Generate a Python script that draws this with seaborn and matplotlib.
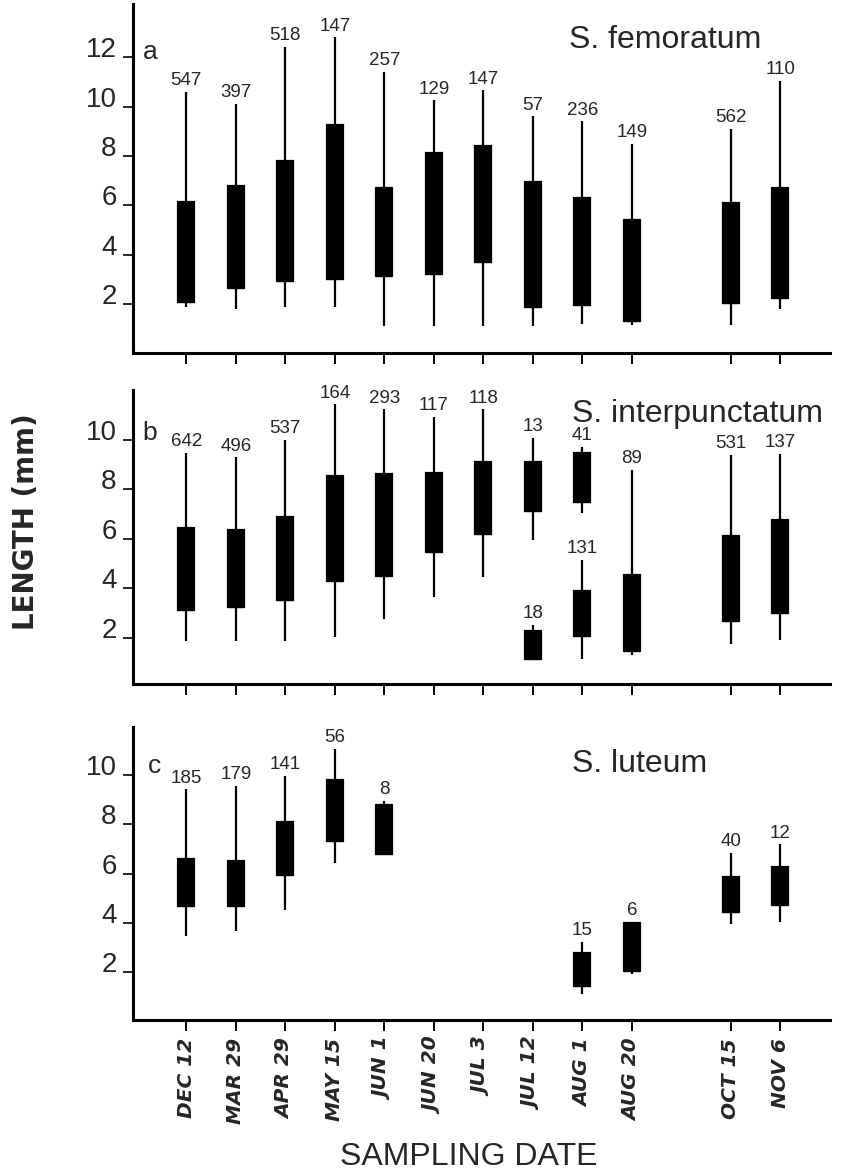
import numpy as np
import pandas as pd
import matplotlib
matplotlib.use("Agg")
import matplotlib.pyplot as plt
import seaborn as sns

# sampling dates (x axis)
dates = ["DEC 12", "MAR 29", "APR 29", "MAY 15", "JUN 1", "JUN 20",
         "JUL 3", "JUL 12", "AUG 1", "AUG 20", "OCT 15", "NOV 6"]

# a: S. femoratum  (whisker low, box low, box high, whisker high, n)
fem_dates = dates
fem_n = [547, 397, 518, 147, 257, 129, 147, 57, 236, 149, 562, 110]
fem_lo = [1.9, 1.8, 1.9, 1.9, 1.1, 1.1, 1.1, 1.1, 1.2, 1.15, 1.15, 1.8]
fem_q1 = [2.1, 2.65, 2.95, 3.0, 3.15, 3.2, 3.7, 1.9, 1.95, 1.3, 2.05, 2.25]
fem_q3 = [6.15, 6.8, 7.8, 9.25, 6.7, 8.1, 8.4, 6.95, 6.3, 5.4, 6.1, 6.7]
fem_hi = [10.6, 10.1, 12.4, 12.8, 11.4, 10.25, 10.65, 9.6, 9.4, 8.5, 9.1, 11.05]

# b: S. interpunctatum, main cohort
int_dates = dates
int_n = [642, 496, 537, 164, 293, 117, 118, 13, 41, 89, 531, 137]
int_lo = [1.87, 1.87, 1.87, 2.04, 2.78, 3.63, 4.46, 5.94, 7.05, 1.3, 1.77, 1.93]
int_q1 = [3.14, 3.25, 3.52, 4.3, 4.49, 5.47, 6.19, 7.13, 7.48, 1.48, 2.67, 3.01]
int_q3 = [6.44, 6.35, 6.89, 8.55, 8.62, 8.64, 9.1, 9.1, 9.44, 4.53, 6.12, 6.74]
int_hi = [9.47, 9.28, 9.98, 11.42, 11.22, 10.92, 11.22, 10.08, 9.69, 8.77, 9.38, 9.42]

# b: S. interpunctatum, second (small) cohort
int2_dates = ["JUL 12", "AUG 1"]
int2_n = [18, 131]
int2_lo = [1.13, 1.13]
int2_q1 = [1.13, 2.09]
int2_q3 = [2.26, 3.9]
int2_hi = [2.51, 5.14]

# c: S. luteum
lut_dates = ["DEC 12", "MAR 29", "APR 29", "MAY 15", "JUN 1",
             "AUG 1", "AUG 20", "OCT 15", "NOV 6"]
lut_n = [185, 179, 141, 56, 8, 15, 6, 40, 12]
lut_lo = [3.45, 3.67, 4.54, 6.43, 6.81, 1.12, 1.9, 3.97, 4.03]
lut_q1 = [4.68, 4.68, 5.93, 7.33, 6.81, 1.42, 2.03, 4.44, 4.71]
lut_q3 = [6.61, 6.5, 8.09, 9.8, 8.8, 2.79, 4.0, 5.86, 6.27]
lut_hi = [9.42, 9.55, 9.96, 11.07, 8.94, 3.22, 4.03, 6.84, 7.19]

# layout: slot of each date on the axis (gap before OCT 15)
date_slot = dict(zip(dates, [0, 1, 2, 3, 4, 5, 6, 7, 8, 9, 11, 12]))

sns.set_style("ticks")
plt.rcParams["font.family"] = ["Liberation Sans", "DejaVu Sans"]


def box_table(ds, lo, q1, q3, hi):
    # five points per date so that min / quartiles / max match the read values
    rows = []
    for d, a, b, c, e in zip(ds, lo, q1, q3, hi):
        for v in (a, b, b, c, e):
            rows.append({"pos": date_slot[d], "length": v})
    return pd.DataFrame(rows)


def draw(ax, ds, n, lo, q1, q3, hi):
    df = box_table(ds, lo, q1, q3, hi)
    sns.boxplot(data=df, x="pos", y="length", native_scale=True, whis=(0, 100),
                width=0.32, color="black", linecolor="black", linewidth=1.6,
                saturation=1, showcaps=False, fliersize=0, ax=ax)
    for d, cnt, top in zip(ds, n, hi):
        ax.annotate(str(cnt), (date_slot[d], top), xytext=(0, 2),
                    textcoords="offset points", ha="center", va="bottom",
                    fontsize=13.5)


fig = plt.figure(figsize=(8.6, 11.74), dpi=100)
ax_a = fig.add_axes([0.155, 0.6993, 0.81, 0.2973])
ax_b = fig.add_axes([0.155, 0.4174, 0.81, 0.2504])
ax_c = fig.add_axes([0.155, 0.1312, 0.81, 0.2496])

draw(ax_a, fem_dates, fem_n, fem_lo, fem_q1, fem_q3, fem_hi)
draw(ax_b, int_dates, int_n, int_lo, int_q1, int_q3, int_hi)
draw(ax_b, int2_dates, int2_n, int2_lo, int2_q1, int2_q3, int2_hi)
draw(ax_c, lut_dates, lut_n, lut_lo, lut_q1, lut_q3, lut_hi)

# axis, letter, species, ylim, yticks, letter (x, y), species (x, y)
panels = [(ax_a, "a", "S. femoratum", (0.02, 14.15), [2, 4, 6, 8, 10, 12],
           (-0.73, 11.92), (7.74, 12.36)),
          (ax_b, "b", "S. interpunctatum", (0.14, 12.0), [2, 4, 6, 8, 10],
           (-0.73, 10.0), (7.8, 10.69)),
          (ax_c, "c", "S. luteum", (0.05, 11.96), [2, 4, 6, 8, 10],
           (-0.65, 10.1), (7.8, 10.13))]

for ax, letter, name, ylim, yt, lpos, npos in panels:
    ax.set_xlim(-1.07, 13.0)
    ax.set_ylim(*ylim)
    ax.set_yticks(yt)
    ax.set_yticklabels([str(v) for v in yt], fontsize=20)
    for lab in ax.get_yticklabels():
        lab.set_verticalalignment("baseline")
    ax.set_xticks([date_slot[d] for d in dates])
    ax.set_xticklabels([])
    ax.set_xlabel("")
    ax.set_ylabel("")
    sns.despine(ax=ax)
    for s in ("left", "bottom"):
        ax.spines[s].set_linewidth(2.2)
        ax.spines[s].set_color("black")
    ax.tick_params(axis="y", length=7, width=1.2, color="black", pad=5)
    ax.tick_params(axis="x", length=8, width=1.4, color="black", pad=5)
    ax.text(lpos[0], lpos[1], letter, fontsize=19, ha="center", va="baseline")
    ax.text(npos[0], npos[1], name, fontsize=23, ha="left", va="baseline")

ax_c.set_xticklabels(dates, rotation=90, fontsize=14.5, fontweight="bold",
                     fontstyle="italic", family="DejaVu Sans")

fig.text(0.030, 0.556, "LENGTH (mm)", rotation=90, fontsize=20,
         fontweight="bold", family="DejaVu Sans", ha="center", va="center")
fig.text(0.545, 0.0145, "SAMPLING DATE", fontsize=23, ha="center", va="center")

fig.savefig("out.png", dpi=100)
